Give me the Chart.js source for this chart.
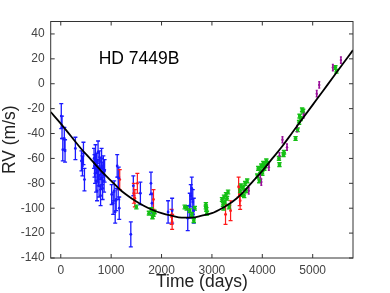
<!DOCTYPE html>
<html>
<head>
<meta charset="utf-8">
<script src="https://cdn.jsdelivr.net/npm/chart.js@4/dist/chart.umd.min.js"></script>
<style>
  html, body { margin: 0; padding: 0; background: #fff; }
</style>
</head>
<body>
<canvas id="rvChart" width="390" height="293"></canvas>
<script>
// HD 7449B radial velocity curve

// fitted orbit
const fitDays = [-200, 0, 200, 400, 600, 800, 1000, 1200, 1400, 1600, 1800, 2000, 2200, 2400, 2600, 2800,
  3000, 3200, 3400, 3600, 3800, 4000, 4200, 4400, 4600, 4800, 5000, 5200, 5400, 5600, 5800];
const fitRV = [-22.7, -32, -42, -52, -61, -70, -78, -86, -92, -97, -101, -104, -106, -107.5, -107.5, -106,
  -104, -100, -95, -88, -79, -70, -60, -50, -39, -28, -17, -6, 5, 16, 27];

// blue instrument
const blueDays = [10, 25, 40, 70, 85, 290, 410, 430, 450, 470,
  660, 670, 680, 690, 700, 710, 720, 730, 740, 750, 760, 770, 780, 790, 800, 810, 820, 830, 845, 860, 870,
  1010, 1040, 1060, 1080, 1100, 1120, 1140, 1150, 1160,
  1390, 1440, 1580, 1790, 1810, 2130, 2210, 2520, 2560, 2580, 2600, 2620, 2640];
const blueRV = [-26, -35, -53, -44, -54, -52, -62, -66, -56, -77,
  -60, -66, -72, -58, -78, -64, -86, -70, -55, -74, -82, -62, -68, -90, -76, -60, -72, -84, -66, -78, -70,
  -89, -96, -86, -103, -93, -66, -84, -76, -100,
  -121, -82, -88, -80, -96, -103, -102, -108, -98, -90, -84, -95, -102];
const blueErr = [10, 9, 9, 9, 9, 9, 8, 8, 9, 9,
  8, 9, 8, 9, 9, 8, 8, 9, 9, 8, 9, 8, 9, 8, 9, 8, 9, 9, 8, 9, 9,
  8, 9, 8, 9, 9, 9, 9, 9, 9,
  10, 8, 9, 9, 8, 9, 10, 10, 10, 9, 9, 10, 10];

// red instrument
const redDays = [1170, 1450, 1470, 1520, 1840, 2200, 2210, 3270, 3370, 3530, 3550, 3560];
const redRV = [-77, -88, -92, -80, -93, -107, -111, -105, -102, -83, -90, -94];
const redErr = [8, 8, 7, 8, 8, 6, 6, 8, 8, 8, 8, 7];

// green instrument
const greenDays = [1500, 1750, 1800, 1820, 1840, 1860, 2460, 2500, 2560, 2600, 2640, 2660,
  2880, 2890, 2900, 2880, 3200, 3220, 3240, 3260, 3280, 3300, 3320, 3340, 3230,
  3560, 3580, 3600, 3620, 3640, 3660, 3680, 3700,
  3900, 3920, 3940, 3960, 3980, 4000, 4020, 4040, 4060, 4080, 4100,
  4330, 4340, 4420, 4430, 4660, 4700, 4730, 4740, 4760, 4790, 4810, 5450, 5470];
const greenRV = [-99, -104, -101, -107, -105, -103, -99, -100, -102, -105, -110, -100,
  -97, -101, -104, -99, -93, -97, -91, -95, -89, -92, -87, -99, -100,
  -86, -82, -89, -84, -90, -80, -86, -78,
  -74, -68, -78, -70, -66, -72, -64, -68, -66, -62, -64,
  -60, -65, -57, -55, -44, -37, -31, -26, -28, -21, -22, 13, 10];

// purple instrument
const purpleDays = [3730, 3960, 3980, 4130, 4340, 4400, 4490, 4690, 4820, 5080, 5130, 5400, 5560];
const purpleRV = [-86, -73, -79, -67, -58, -45, -51, -36, -25, -8, -1, 13, 19];

const xTicks = [0, 1000, 2000, 3000, 4000, 5000];
const yTicks = [-140, -120, -100, -80, -60, -40, -20, 0, 20, 40];

const FONT = "'Liberation Sans', Arial, sans-serif";

function toPoints(xs, ys) {
  return xs.map((x, i) => ({ x: x, y: ys[i] }));
}

function rvSet(label, xs, ys, errs, color, capHalf, barWidth, radius) {
  return {
    type: 'scatter',
    label: label,
    data: toPoints(xs, ys),
    err: errs,
    capHalf: capHalf,
    barWidth: barWidth,
    backgroundColor: color,
    borderColor: color,
    pointRadius: radius,
    pointBorderWidth: 0,
    order: 2
  };
}

// error bars drawn under the fit line
const errorBars = {
  id: 'errorBars',
  beforeDatasetsDraw(chart) {
    const { ctx, scales } = chart;
    const xs = scales.x, ys = scales.y;
    ctx.save();
    chart.data.datasets.forEach(ds => {
      if (!ds.err) return;
      ctx.strokeStyle = ds.borderColor;
      ctx.lineWidth = ds.barWidth;
      ds.data.forEach((p, i) => {
        const px = xs.getPixelForValue(p.x);
        const top = ys.getPixelForValue(p.y + ds.err[i]);
        const bot = ys.getPixelForValue(p.y - ds.err[i]);
        const c = ds.capHalf;
        ctx.beginPath();
        ctx.moveTo(px, top); ctx.lineTo(px, bot);
        ctx.moveTo(px - c, top); ctx.lineTo(px + c, top);
        ctx.moveTo(px - c, bot); ctx.lineTo(px + c, bot);
        ctx.stroke();
      });
    });
    ctx.restore();
  }
};

// box with inward ticks + star label
const frame = {
  id: 'frame',
  afterDraw(chart) {
    const { ctx, chartArea: a, scales } = chart;
    ctx.save();
    ctx.strokeStyle = '#333';
    ctx.lineWidth = 1;
    ctx.strokeRect(a.left, a.top, a.right - a.left, a.bottom - a.top);
    const tl = 4;
    ctx.beginPath();
    scales.x.ticks.forEach(t => {
      const px = scales.x.getPixelForValue(t.value);
      ctx.moveTo(px, a.bottom); ctx.lineTo(px, a.bottom - tl);
      ctx.moveTo(px, a.top); ctx.lineTo(px, a.top + tl);
    });
    scales.y.ticks.forEach(t => {
      const py = scales.y.getPixelForValue(t.value);
      ctx.moveTo(a.left, py); ctx.lineTo(a.left + tl, py);
      ctx.moveTo(a.right, py); ctx.lineTo(a.right - tl, py);
    });
    ctx.stroke();

    ctx.fillStyle = '#000';
    ctx.font = '17.5px ' + FONT;
    ctx.textAlign = 'center';
    ctx.textBaseline = 'alphabetic';
    ctx.fillText('HD 7449B', 139, 64);
    ctx.restore();
  }
};

new Chart(document.getElementById('rvChart'), {
  data: {
    datasets: [
      {
        type: 'line',
        label: 'fit',
        data: toPoints(fitDays, fitRV),
        borderColor: '#000',
        borderWidth: 1.8,
        pointRadius: 0,
        fill: false,
        cubicInterpolationMode: 'monotone',
        order: 1
      },
      rvSet('blue', blueDays, blueRV, blueErr, '#1a1aff', 2, 1.3, 1.4),
      rvSet('red', redDays, redRV, redErr, '#ff1a1a', 2, 1.2, 1.4),
      rvSet('green', greenDays, greenRV, greenDays.map(() => 1.5), '#14c014', 2.2, 1.4, 1.8),
      rvSet('purple', purpleDays, purpleRV, purpleDays.map(() => 2.5), '#9a109a', 1, 1.5, 1.2)
    ]
  },
  options: {
    responsive: false,
    animation: false,
    layout: { padding: { top: 21.5, right: 37, left: 0, bottom: 0 } },
    plugins: {
      legend: { display: false },
      tooltip: { enabled: false }
    },
    scales: {
      x: {
        type: 'linear',
        position: 'bottom',
        min: -200,
        max: 5800,
        afterBuildTicks: s => { s.ticks = xTicks.map(v => ({ value: v })); },
        afterFit: s => { s.height = 35; },
        grid: { display: false, drawTicks: false, tickLength: 0 },
        border: { display: false },
        ticks: {
          color: '#444',
          font: { family: FONT, size: 12 },
          padding: 5,
          maxRotation: 0,
          callback: v => String(v)
        },
        title: {
          display: true,
          text: 'Time (days)',
          color: '#222',
          font: { family: FONT, size: 17.5 },
          padding: { top: 0, bottom: 0.5 }
        }
      },
      y: {
        type: 'linear',
        position: 'left',
        min: -140,
        max: 50,
        afterBuildTicks: s => { s.ticks = yTicks.map(v => ({ value: v })); },
        afterFit: s => { s.width = 50.7; },
        grid: { display: false, drawTicks: false, tickLength: 0 },
        border: { display: false },
        ticks: {
          color: '#444',
          font: { family: FONT, size: 12 },
          padding: 6,
          callback: v => String(v)
        },
        title: {
          display: true,
          text: 'RV (m/s)',
          color: '#222',
          font: { family: FONT, size: 17.5 },
          padding: { top: 0, bottom: 0 }
        }
      }
    }
  },
  plugins: [errorBars, frame]
});
</script>
</body>
</html>
